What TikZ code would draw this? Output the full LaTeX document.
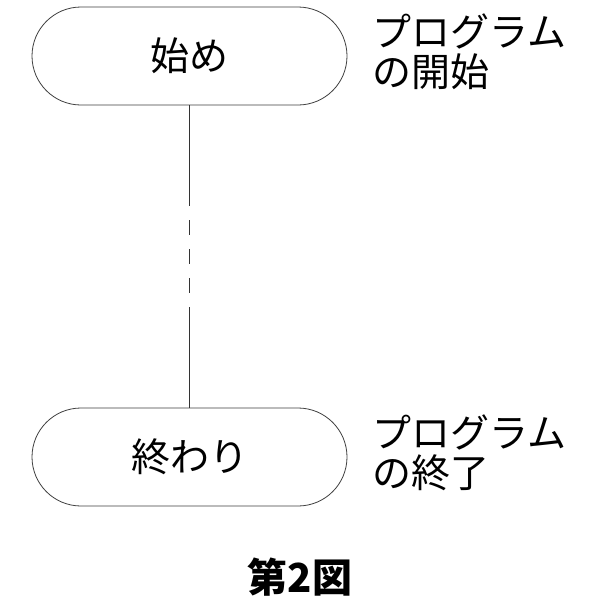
\documentclass[tikz,border=0pt]{standalone}
\usepackage{fontspec}
\newfontfamily\jp{Noto Sans CJK JP}
\usetikzlibrary{shapes.misc}
\begin{document}
\begin{tikzpicture}[x=1pt,y=-1pt,
  term/.style={draw=black!75, line width=0.8pt, rounded rectangle, minimum width=315pt, minimum height=98pt, inner sep=0pt, font=\jp\fontsize{39}{40}\selectfont},
  note/.style={anchor=north west, align=left, inner sep=0pt, font=\jp\fontsize{39}{40}\selectfont},
  figcaption/.style={inner sep=0pt, font=\jp\bfseries\fontsize{40}{42}\selectfont}]
\useasboundingbox (0,0) rectangle (600,600);
\fill[white] (0,0) rectangle (600,600);
\node[term] (start) at (189.5,56) {始め};
\node[term] (end) at (189.5,457) {終わり};
\draw[black!80, line width=0.9pt, dash pattern={on 101pt off 14pt on 15pt off 14pt on 15pt off 14pt on 15pt off 14pt on 101pt}] (start.south) -- (end.north);
\node[note] (n1) at (372,14) {プログラム\\の開始};
\node[note] (n2) at (372,415) {プログラム\\の終了};
\node[figcaption] (c) at (300,577) {第2図};
\end{tikzpicture}
\end{document}
